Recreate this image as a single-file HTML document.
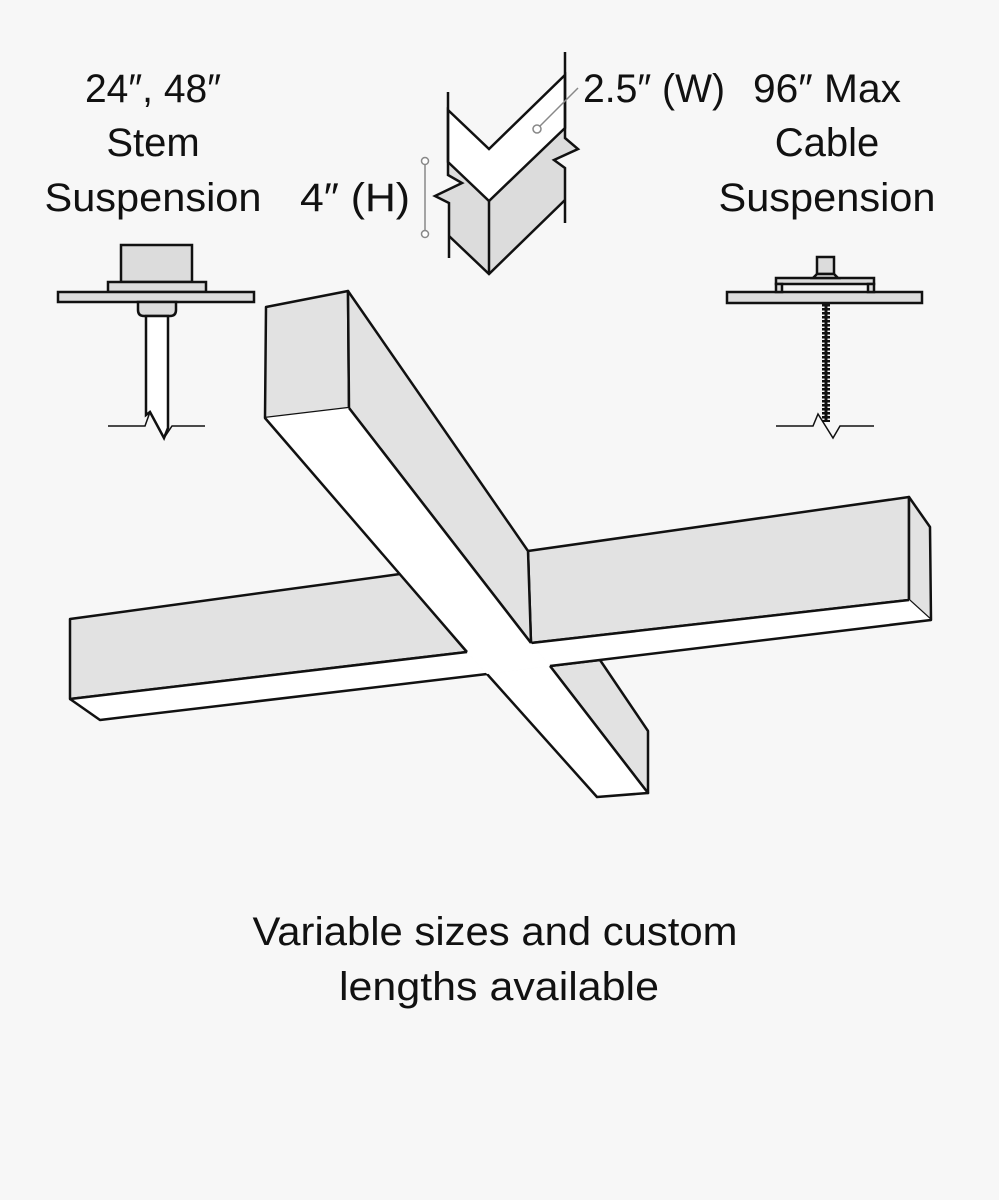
<!DOCTYPE html>
<html><head><style>
html,body{margin:0;padding:0;background:#f7f7f7;}
svg{display:block;}
text{font-family:"Liberation Sans",sans-serif;font-size:40px;fill:#111;}
</style></head><body>
<svg width="999" height="1200" viewBox="0 0 999 1200" xmlns="http://www.w3.org/2000/svg">
<rect width="999" height="1200" fill="#f7f7f7"/>
<!-- labels -->
<text x="153" y="102" text-anchor="middle" textLength="136" lengthAdjust="spacingAndGlyphs">24″, 48″</text>
<text x="153" y="156" text-anchor="middle">Stem</text>
<text x="153" y="211" text-anchor="middle" textLength="217" lengthAdjust="spacingAndGlyphs">Suspension</text>
<text x="827" y="102" text-anchor="middle" textLength="148" lengthAdjust="spacingAndGlyphs">96″ Max</text>
<text x="827" y="156" text-anchor="middle">Cable</text>
<text x="827" y="211" text-anchor="middle" textLength="217" lengthAdjust="spacingAndGlyphs">Suspension</text>
<text x="583" y="102" textLength="142" lengthAdjust="spacingAndGlyphs">2.5″ (W)</text>
<text x="300" y="211" textLength="110" lengthAdjust="spacingAndGlyphs">4″  (H)</text>
<text x="495" y="945" text-anchor="middle" textLength="485" lengthAdjust="spacingAndGlyphs">Variable sizes and custom</text>
<text x="499" y="1000" text-anchor="middle" textLength="320" lengthAdjust="spacingAndGlyphs">lengths available</text>

<g stroke="#111" stroke-width="2.5" stroke-linejoin="miter" fill="none">
<!-- profile -->
<polygon points="448,162 489,201 565,128 565,138 578,149 554,160 565,168 565,200 489,274 449,236 449,203 435,196 462,183 448,175" fill="#dcdcdc" stroke="none"/>
<polygon points="448,110 489,149 565,75 565,128 489,201 448,162" fill="#fff"/>
<polyline points="448,92 448,175 462,183 435,196 449,203 449,258"/>
<polyline points="565,52 565,138 578,149 554,160 565,168 565,223"/>
<polyline points="565,200 489,274 449,236"/>
<line x1="489" y1="201" x2="489" y2="274"/>
</g>
<g stroke="#888" stroke-width="1.5" fill="#fff">
<line x1="425" y1="163" x2="425" y2="233"/>
<circle cx="425" cy="161" r="3.5"/>
<circle cx="425" cy="234" r="3.5"/>
<line x1="540" y1="126" x2="578" y2="88"/>
<circle cx="537" cy="129" r="4"/>
</g>

<!-- stem -->
<g stroke="#111" stroke-width="2.5" fill="#dcdcdc">
<rect x="121" y="245" width="71" height="37"/>
<rect x="108" y="282" width="98" height="10"/>
<rect x="58" y="292" width="196" height="10"/>
<path d="M138,302 H176 V310 Q176,316 170,316 H144 Q138,316 138,310 Z"/>
<path d="M146,316 V415 L150,412 L164,438 L168,428 V316 Z" fill="#fff"/>
</g>
<g stroke="#111" stroke-width="1.5" fill="none">
<polyline points="108,426 145,426 150,412 164,438 172,426 205,426"/>
</g>

<!-- cable -->
<g stroke="#111" stroke-width="2.5" fill="#dcdcdc">
<rect x="727" y="292" width="195" height="11"/>
<rect x="776" y="278" width="98" height="6"/>
<rect x="776" y="284" width="6" height="8"/>
<rect x="868" y="284" width="6" height="8"/>
<rect x="817" y="257" width="17" height="17"/>
<path d="M817,274 L813,278 H838 L834,274 Z"/>
</g>
<path d="M826,304 L826,422" stroke="#111" stroke-width="8" stroke-dasharray="2.5,1.5"/>
<line x1="826" y1="304" x2="826" y2="422" stroke="#111" stroke-width="3"/>
<polyline points="776,426 813,426 818,414 833,438 840,426 874,426" stroke="#111" stroke-width="1.5" fill="none"/>

<!-- fixture -->
<g stroke="#111" stroke-width="2.5" stroke-linejoin="round">
<!-- left horizontal arm -->
<polygon points="70,619 400,574 467,652 70,699" fill="#e2e2e2"/>
<polygon points="70,699 467,652 487,674 100,720" fill="#fff" stroke="none"/>
<polyline points="70,699 100,720 487,674" fill="none"/>
<!-- diagonal bottom end grey -->
<polygon points="550,666 600,660 648,731 648,793" fill="#e2e2e2"/>
<!-- diagonal white strip lower -->
<polygon points="487,674 550,666 648,793 597,797" fill="#fff" stroke="none"/>
<polyline points="487,674 597,797 648,793 550,666" fill="none"/>
<!-- right horizontal arm -->
<polygon points="528,551 909,497 909,600 531,643" fill="#e2e2e2"/>
<polygon points="909,497 930,527 931,620 909,600" fill="#e2e2e2"/>
<polygon points="531,643 909,600 931,620 550,666" fill="#fff" stroke="none"/>
<polyline points="550,666 931,620" fill="none"/>
<polyline points="531,643 909,600" fill="none"/>
<!-- diagonal upper -->
<polygon points="266,307 348,291 349,408 265,418" fill="#e2e2e2"/>
<polygon points="348,291 528,551 531,643 349,408" fill="#e2e2e2"/>
<polygon points="265,418 349,408 531,643 550,666 487,674 467,652" fill="#fff" stroke="none"/>
<polyline points="265,418 467,652" fill="none"/>
<polyline points="349,408 531,643" fill="none"/>
<polyline points="70,699 467,652" fill="none"/>
</g>
</svg>
</body></html>
